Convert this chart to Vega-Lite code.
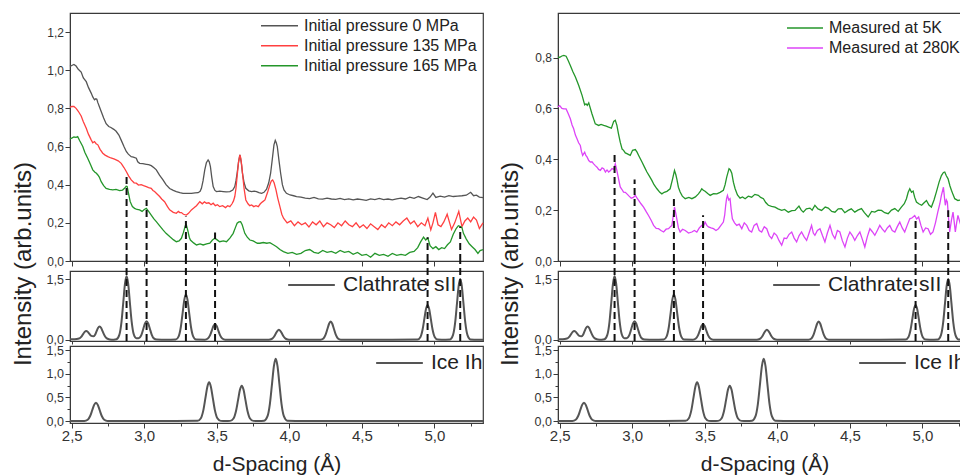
{
"$schema": "https://vega.github.io/schema/vega-lite/v6.json",
"autosize": {"type": "none"},
"padding": {"left": 70, "top": 13, "right": 890, "bottom": 463},
"background": "white",
"config": {
 "font": "Liberation Sans",
 "view": {"stroke": "#3a3a3a", "strokeWidth": 1.2},
 "axis": {"grid": false, "domainColor": "#3a3a3a", "tickColor": "#3a3a3a", "labelColor": "#333333", "labelFont": "Liberation Sans", "titleFont": "Liberation Sans", "titleFontWeight": "normal", "titleColor": "#222222", "labelOverlap": false, "labelFlush": false, "tickWidth": 1},
 "legend": {"labelFont": "Liberation Sans", "labelColor": "#222222", "symbolType": "stroke", "symbolStrokeWidth": 1.6, "padding": 0, "rowPadding": 0, "labelLimit": 400, "title": null}
},
"datasets": {
 "p0": [
 {"d":2.488,"v":1.02},{"d":2.5,"v":1.025},{"d":2.515,"v":1.03},{"d":2.53,"v":1.022},{"d":2.545,"v":1.005},{"d":2.565,"v":0.99},{"d":2.58,"v":0.96},{"d":2.6,"v":0.94},{"d":2.615,"v":0.91},{"d":2.634,"v":0.88},{"d":2.645,"v":0.86},{"d":2.657,"v":0.845},{"d":2.666,"v":0.85},{"d":2.673,"v":0.848},{"d":2.68,"v":0.83},{"d":2.69,"v":0.81},{"d":2.705,"v":0.78},{"d":2.72,"v":0.75},{"d":2.737,"v":0.72},{"d":2.755,"v":0.705},{"d":2.77,"v":0.7},{"d":2.79,"v":0.69},{"d":2.806,"v":0.68},{"d":2.825,"v":0.66},{"d":2.84,"v":0.635},{"d":2.86,"v":0.6},{"d":2.876,"v":0.574},{"d":2.89,"v":0.56},{"d":2.91,"v":0.547},{"d":2.925,"v":0.545},{"d":2.945,"v":0.539},{"d":2.955,"v":0.52},{"d":2.968,"v":0.512},{"d":2.99,"v":0.51},{"d":3.014,"v":0.507},{"d":3.03,"v":0.505},{"d":3.048,"v":0.5},{"d":3.065,"v":0.49},{"d":3.083,"v":0.478},{"d":3.105,"v":0.45},{"d":3.129,"v":0.425},{"d":3.15,"v":0.4},{"d":3.175,"v":0.38},{"d":3.2,"v":0.37},{"d":3.221,"v":0.364},{"d":3.245,"v":0.358},{"d":3.267,"v":0.355},{"d":3.295,"v":0.354},{"d":3.325,"v":0.355},{"d":3.35,"v":0.357},{"d":3.371,"v":0.358},{"d":3.385,"v":0.365},{"d":3.394,"v":0.381},{"d":3.405,"v":0.42},{"d":3.417,"v":0.478},{"d":3.428,"v":0.515},{"d":3.44,"v":0.53},{"d":3.448,"v":0.52},{"d":3.456,"v":0.495},{"d":3.465,"v":0.44},{"d":3.475,"v":0.39},{"d":3.487,"v":0.37},{"d":3.498,"v":0.364},{"d":3.52,"v":0.366},{"d":3.544,"v":0.364},{"d":3.565,"v":0.362},{"d":3.59,"v":0.364},{"d":3.61,"v":0.372},{"d":3.624,"v":0.39},{"d":3.632,"v":0.42},{"d":3.64,"v":0.46},{"d":3.65,"v":0.52},{"d":3.659,"v":0.556},{"d":3.668,"v":0.52},{"d":3.677,"v":0.46},{"d":3.688,"v":0.41},{"d":3.7,"v":0.381},{"d":3.72,"v":0.368},{"d":3.74,"v":0.364},{"d":3.757,"v":0.366},{"d":3.774,"v":0.364},{"d":3.79,"v":0.358},{"d":3.809,"v":0.355},{"d":3.825,"v":0.36},{"d":3.843,"v":0.376},{"d":3.858,"v":0.41},{"d":3.871,"v":0.46},{"d":3.882,"v":0.53},{"d":3.894,"v":0.609},{"d":3.903,"v":0.632},{"d":3.91,"v":0.62},{"d":3.917,"v":0.6},{"d":3.928,"v":0.53},{"d":3.94,"v":0.46},{"d":3.952,"v":0.4},{"d":3.963,"v":0.373},{"d":3.98,"v":0.355},{"d":4.005,"v":0.346},{"d":4.03,"v":0.342},{"d":4.05,"v":0.338},{"d":4.08,"v":0.335},{"d":4.11,"v":0.33},{"d":4.14,"v":0.327},{"d":4.17,"v":0.333},{"d":4.2,"v":0.326},{"d":4.23,"v":0.324},{"d":4.26,"v":0.33},{"d":4.29,"v":0.325},{"d":4.32,"v":0.323},{"d":4.35,"v":0.328},{"d":4.38,"v":0.322},{"d":4.41,"v":0.326},{"d":4.44,"v":0.32},{"d":4.47,"v":0.325},{"d":4.5,"v":0.322},{"d":4.53,"v":0.318},{"d":4.56,"v":0.326},{"d":4.59,"v":0.322},{"d":4.62,"v":0.328},{"d":4.65,"v":0.322},{"d":4.68,"v":0.325},{"d":4.71,"v":0.32},{"d":4.74,"v":0.326},{"d":4.77,"v":0.33},{"d":4.8,"v":0.325},{"d":4.83,"v":0.335},{"d":4.86,"v":0.328},{"d":4.89,"v":0.338},{"d":4.92,"v":0.33},{"d":4.95,"v":0.322},{"d":4.97,"v":0.335},{"d":4.99,"v":0.356},{"d":5.01,"v":0.333},{"d":5.04,"v":0.34},{"d":5.07,"v":0.335},{"d":5.1,"v":0.343},{"d":5.13,"v":0.338},{"d":5.16,"v":0.34},{"d":5.19,"v":0.342},{"d":5.22,"v":0.345},{"d":5.25,"v":0.36},{"d":5.27,"v":0.342},{"d":5.29,"v":0.345},{"d":5.31,"v":0.335},{"d":5.335,"v":0.332}
 ],
 "p135": [
 {"d":2.488,"v":0.805},{"d":2.5,"v":0.81},{"d":2.515,"v":0.81},{"d":2.53,"v":0.8},{"d":2.545,"v":0.785},{"d":2.565,"v":0.76},{"d":2.58,"v":0.73},{"d":2.6,"v":0.696},{"d":2.615,"v":0.665},{"d":2.634,"v":0.635},{"d":2.645,"v":0.62},{"d":2.657,"v":0.626},{"d":2.668,"v":0.615},{"d":2.68,"v":0.609},{"d":2.695,"v":0.585},{"d":2.714,"v":0.565},{"d":2.73,"v":0.555},{"d":2.749,"v":0.547},{"d":2.77,"v":0.54},{"d":2.795,"v":0.534},{"d":2.82,"v":0.525},{"d":2.841,"v":0.512},{"d":2.86,"v":0.49},{"d":2.876,"v":0.469},{"d":2.893,"v":0.445},{"d":2.91,"v":0.425},{"d":2.93,"v":0.41},{"d":2.945,"v":0.408},{"d":2.96,"v":0.398},{"d":2.979,"v":0.4},{"d":2.995,"v":0.395},{"d":3.014,"v":0.39},{"d":3.03,"v":0.385},{"d":3.048,"v":0.381},{"d":3.06,"v":0.37},{"d":3.071,"v":0.364},{"d":3.09,"v":0.35},{"d":3.106,"v":0.338},{"d":3.12,"v":0.325},{"d":3.14,"v":0.311},{"d":3.16,"v":0.285},{"d":3.175,"v":0.268},{"d":3.2,"v":0.255},{"d":3.221,"v":0.25},{"d":3.235,"v":0.26},{"d":3.245,"v":0.254},{"d":3.256,"v":0.254},{"d":3.27,"v":0.245},{"d":3.29,"v":0.241},{"d":3.305,"v":0.25},{"d":3.325,"v":0.268},{"d":3.345,"v":0.28},{"d":3.36,"v":0.29},{"d":3.383,"v":0.311},{"d":3.4,"v":0.3},{"d":3.415,"v":0.31},{"d":3.429,"v":0.303},{"d":3.445,"v":0.305},{"d":3.46,"v":0.295},{"d":3.475,"v":0.303},{"d":3.49,"v":0.29},{"d":3.505,"v":0.295},{"d":3.52,"v":0.285},{"d":3.54,"v":0.29},{"d":3.56,"v":0.28},{"d":3.575,"v":0.29},{"d":3.59,"v":0.285},{"d":3.605,"v":0.3},{"d":3.615,"v":0.315},{"d":3.624,"v":0.338},{"d":3.632,"v":0.38},{"d":3.64,"v":0.443},{"d":3.65,"v":0.52},{"d":3.659,"v":0.556},{"d":3.665,"v":0.54},{"d":3.672,"v":0.5},{"d":3.677,"v":0.46},{"d":3.688,"v":0.38},{"d":3.7,"v":0.32},{"d":3.715,"v":0.3},{"d":3.727,"v":0.29},{"d":3.74,"v":0.294},{"d":3.755,"v":0.285},{"d":3.77,"v":0.29},{"d":3.786,"v":0.285},{"d":3.8,"v":0.3},{"d":3.815,"v":0.31},{"d":3.832,"v":0.32},{"d":3.85,"v":0.36},{"d":3.866,"v":0.4},{"d":3.876,"v":0.42},{"d":3.885,"v":0.425},{"d":3.895,"v":0.41},{"d":3.908,"v":0.373},{"d":3.92,"v":0.33},{"d":3.935,"v":0.285},{"d":3.948,"v":0.245},{"d":3.96,"v":0.224},{"d":3.985,"v":0.2},{"d":4.01,"v":0.21},{"d":4.035,"v":0.185},{"d":4.06,"v":0.205},{"d":4.085,"v":0.19},{"d":4.11,"v":0.2},{"d":4.135,"v":0.178},{"d":4.16,"v":0.205},{"d":4.185,"v":0.19},{"d":4.21,"v":0.21},{"d":4.235,"v":0.18},{"d":4.26,"v":0.2},{"d":4.285,"v":0.19},{"d":4.31,"v":0.175},{"d":4.335,"v":0.2},{"d":4.36,"v":0.185},{"d":4.385,"v":0.21},{"d":4.41,"v":0.19},{"d":4.435,"v":0.18},{"d":4.46,"v":0.2},{"d":4.485,"v":0.175},{"d":4.51,"v":0.19},{"d":4.535,"v":0.17},{"d":4.56,"v":0.195},{"d":4.585,"v":0.18},{"d":4.61,"v":0.165},{"d":4.635,"v":0.19},{"d":4.66,"v":0.175},{"d":4.685,"v":0.2},{"d":4.71,"v":0.185},{"d":4.735,"v":0.205},{"d":4.76,"v":0.19},{"d":4.785,"v":0.21},{"d":4.81,"v":0.225},{"d":4.835,"v":0.195},{"d":4.86,"v":0.21},{"d":4.885,"v":0.18},{"d":4.91,"v":0.2},{"d":4.935,"v":0.185},{"d":4.955,"v":0.225},{"d":4.975,"v":0.163},{"d":4.99,"v":0.2},{"d":5.007,"v":0.255},{"d":5.025,"v":0.19},{"d":5.045,"v":0.18},{"d":5.065,"v":0.205},{"d":5.088,"v":0.245},{"d":5.105,"v":0.2},{"d":5.118,"v":0.165},{"d":5.14,"v":0.2},{"d":5.168,"v":0.26},{"d":5.19,"v":0.18},{"d":5.21,"v":0.21},{"d":5.23,"v":0.225},{"d":5.25,"v":0.205},{"d":5.27,"v":0.23},{"d":5.29,"v":0.215},{"d":5.31,"v":0.17},{"d":5.335,"v":0.2}
 ],
 "p165": [
 {"d":2.488,"v":0.64},{"d":2.5,"v":0.644},{"d":2.515,"v":0.65},{"d":2.53,"v":0.648},{"d":2.541,"v":0.652},{"d":2.555,"v":0.63},{"d":2.576,"v":0.6},{"d":2.59,"v":0.57},{"d":2.61,"v":0.539},{"d":2.63,"v":0.505},{"d":2.645,"v":0.478},{"d":2.66,"v":0.465},{"d":2.67,"v":0.46},{"d":2.68,"v":0.451},{"d":2.69,"v":0.44},{"d":2.703,"v":0.416},{"d":2.72,"v":0.395},{"d":2.737,"v":0.381},{"d":2.76,"v":0.375},{"d":2.783,"v":0.373},{"d":2.805,"v":0.375},{"d":2.83,"v":0.369},{"d":2.85,"v":0.372},{"d":2.864,"v":0.381},{"d":2.875,"v":0.392},{"d":2.882,"v":0.39},{"d":2.89,"v":0.36},{"d":2.903,"v":0.311},{"d":2.918,"v":0.285},{"d":2.933,"v":0.276},{"d":2.95,"v":0.27},{"d":2.968,"v":0.268},{"d":2.985,"v":0.26},{"d":3.0,"v":0.27},{"d":3.014,"v":0.276},{"d":3.03,"v":0.26},{"d":3.048,"v":0.241},{"d":3.065,"v":0.222},{"d":3.083,"v":0.206},{"d":3.105,"v":0.185},{"d":3.129,"v":0.163},{"d":3.15,"v":0.145},{"d":3.175,"v":0.128},{"d":3.2,"v":0.112},{"d":3.221,"v":0.101},{"d":3.24,"v":0.105},{"d":3.256,"v":0.119},{"d":3.27,"v":0.15},{"d":3.283,"v":0.185},{"d":3.29,"v":0.189},{"d":3.3,"v":0.16},{"d":3.31,"v":0.125},{"d":3.318,"v":0.11},{"d":3.34,"v":0.095},{"d":3.36,"v":0.084},{"d":3.385,"v":0.09},{"d":3.406,"v":0.084},{"d":3.43,"v":0.09},{"d":3.452,"v":0.093},{"d":3.47,"v":0.11},{"d":3.486,"v":0.119},{"d":3.5,"v":0.112},{"d":3.52,"v":0.101},{"d":3.545,"v":0.105},{"d":3.567,"v":0.101},{"d":3.59,"v":0.12},{"d":3.613,"v":0.145},{"d":3.628,"v":0.175},{"d":3.64,"v":0.198},{"d":3.652,"v":0.205},{"d":3.664,"v":0.206},{"d":3.675,"v":0.19},{"d":3.693,"v":0.145},{"d":3.71,"v":0.125},{"d":3.728,"v":0.11},{"d":3.75,"v":0.105},{"d":3.78,"v":0.093},{"d":3.797,"v":0.093},{"d":3.82,"v":0.097},{"d":3.845,"v":0.093},{"d":3.866,"v":0.096},{"d":3.89,"v":0.085},{"d":3.912,"v":0.075},{"d":3.935,"v":0.06},{"d":3.959,"v":0.049},{"d":3.99,"v":0.04},{"d":4.02,"v":0.045},{"d":4.05,"v":0.035},{"d":4.08,"v":0.04},{"d":4.11,"v":0.055},{"d":4.14,"v":0.06},{"d":4.17,"v":0.045},{"d":4.2,"v":0.04},{"d":4.23,"v":0.055},{"d":4.26,"v":0.045},{"d":4.29,"v":0.05},{"d":4.32,"v":0.04},{"d":4.35,"v":0.055},{"d":4.38,"v":0.045},{"d":4.41,"v":0.05},{"d":4.44,"v":0.035},{"d":4.47,"v":0.045},{"d":4.5,"v":0.03},{"d":4.53,"v":0.035},{"d":4.56,"v":0.02},{"d":4.59,"v":0.04},{"d":4.62,"v":0.03},{"d":4.65,"v":0.035},{"d":4.68,"v":0.025},{"d":4.71,"v":0.04},{"d":4.74,"v":0.03},{"d":4.77,"v":0.035},{"d":4.8,"v":0.03},{"d":4.83,"v":0.045},{"d":4.86,"v":0.05},{"d":4.885,"v":0.07},{"d":4.905,"v":0.1},{"d":4.925,"v":0.125},{"d":4.94,"v":0.11},{"d":4.955,"v":0.12},{"d":4.97,"v":0.08},{"d":4.99,"v":0.065},{"d":5.01,"v":0.075},{"d":5.03,"v":0.06},{"d":5.05,"v":0.07},{"d":5.07,"v":0.065},{"d":5.09,"v":0.085},{"d":5.11,"v":0.1},{"d":5.13,"v":0.14},{"d":5.15,"v":0.17},{"d":5.165,"v":0.185},{"d":5.18,"v":0.18},{"d":5.19,"v":0.175},{"d":5.2,"v":0.145},{"d":5.22,"v":0.115},{"d":5.24,"v":0.09},{"d":5.26,"v":0.075},{"d":5.28,"v":0.06},{"d":5.3,"v":0.04},{"d":5.315,"v":0.055},{"d":5.335,"v":0.06}
 ],
 "p5k": [
 {"d":2.488,"v":0.8},{"d":2.5,"v":0.801},{"d":2.515,"v":0.806},{"d":2.528,"v":0.808},{"d":2.544,"v":0.805},{"d":2.558,"v":0.788},{"d":2.573,"v":0.769},{"d":2.59,"v":0.745},{"d":2.608,"v":0.723},{"d":2.631,"v":0.69},{"d":2.654,"v":0.651},{"d":2.672,"v":0.614},{"d":2.681,"v":0.618},{"d":2.69,"v":0.612},{"d":2.7,"v":0.622},{"d":2.722,"v":0.579},{"d":2.745,"v":0.539},{"d":2.768,"v":0.533},{"d":2.785,"v":0.537},{"d":2.803,"v":0.533},{"d":2.82,"v":0.53},{"d":2.837,"v":0.526},{"d":2.856,"v":0.522},{"d":2.872,"v":0.549},{"d":2.883,"v":0.553},{"d":2.894,"v":0.533},{"d":2.905,"v":0.5},{"d":2.917,"v":0.467},{"d":2.93,"v":0.44},{"d":2.94,"v":0.435},{"d":2.952,"v":0.425},{"d":2.963,"v":0.422},{"d":2.976,"v":0.418},{"d":2.986,"v":0.415},{"d":3.002,"v":0.435},{"d":3.021,"v":0.438},{"d":3.033,"v":0.428},{"d":3.044,"v":0.415},{"d":3.067,"v":0.389},{"d":3.085,"v":0.368},{"d":3.101,"v":0.35},{"d":3.12,"v":0.332},{"d":3.135,"v":0.317},{"d":3.15,"v":0.3},{"d":3.17,"v":0.284},{"d":3.19,"v":0.27},{"d":3.204,"v":0.264},{"d":3.22,"v":0.27},{"d":3.239,"v":0.274},{"d":3.261,"v":0.284},{"d":3.278,"v":0.323},{"d":3.291,"v":0.356},{"d":3.3,"v":0.34},{"d":3.307,"v":0.323},{"d":3.318,"v":0.29},{"d":3.33,"v":0.271},{"d":3.345,"v":0.255},{"d":3.365,"v":0.245},{"d":3.39,"v":0.25},{"d":3.411,"v":0.245},{"d":3.435,"v":0.252},{"d":3.456,"v":0.264},{"d":3.47,"v":0.275},{"d":3.479,"v":0.284},{"d":3.49,"v":0.278},{"d":3.502,"v":0.274},{"d":3.52,"v":0.265},{"d":3.537,"v":0.258},{"d":3.56,"v":0.265},{"d":3.583,"v":0.264},{"d":3.605,"v":0.27},{"d":3.628,"v":0.278},{"d":3.64,"v":0.3},{"d":3.651,"v":0.33},{"d":3.667,"v":0.363},{"d":3.676,"v":0.358},{"d":3.686,"v":0.345},{"d":3.697,"v":0.31},{"d":3.709,"v":0.284},{"d":3.725,"v":0.26},{"d":3.743,"v":0.247},{"d":3.76,"v":0.252},{"d":3.778,"v":0.245},{"d":3.8,"v":0.255},{"d":3.823,"v":0.251},{"d":3.845,"v":0.262},{"d":3.869,"v":0.258},{"d":3.885,"v":0.25},{"d":3.904,"v":0.245},{"d":3.92,"v":0.23},{"d":3.938,"v":0.219},{"d":3.96,"v":0.215},{"d":3.984,"v":0.212},{"d":4.005,"v":0.205},{"d":4.03,"v":0.199},{"d":4.05,"v":0.203},{"d":4.076,"v":0.192},{"d":4.1,"v":0.198},{"d":4.122,"v":0.199},{"d":4.149,"v":0.216},{"d":4.165,"v":0.2},{"d":4.179,"v":0.192},{"d":4.2,"v":0.205},{"d":4.225,"v":0.208},{"d":4.24,"v":0.2},{"d":4.259,"v":0.219},{"d":4.28,"v":0.205},{"d":4.305,"v":0.199},{"d":4.33,"v":0.212},{"d":4.351,"v":0.208},{"d":4.375,"v":0.195},{"d":4.397,"v":0.192},{"d":4.42,"v":0.205},{"d":4.443,"v":0.206},{"d":4.465,"v":0.19},{"d":4.488,"v":0.199},{"d":4.51,"v":0.205},{"d":4.534,"v":0.192},{"d":4.555,"v":0.2},{"d":4.58,"v":0.206},{"d":4.6,"v":0.19},{"d":4.626,"v":0.173},{"d":4.65,"v":0.195},{"d":4.672,"v":0.192},{"d":4.695,"v":0.2},{"d":4.718,"v":0.199},{"d":4.74,"v":0.19},{"d":4.764,"v":0.186},{"d":4.787,"v":0.2},{"d":4.81,"v":0.206},{"d":4.833,"v":0.195},{"d":4.855,"v":0.212},{"d":4.875,"v":0.225},{"d":4.89,"v":0.245},{"d":4.902,"v":0.27},{"d":4.913,"v":0.284},{"d":4.925,"v":0.27},{"d":4.936,"v":0.275},{"d":4.947,"v":0.25},{"d":4.959,"v":0.232},{"d":4.975,"v":0.225},{"d":4.995,"v":0.219},{"d":5.01,"v":0.228},{"d":5.028,"v":0.238},{"d":5.045,"v":0.22},{"d":5.062,"v":0.212},{"d":5.08,"v":0.24},{"d":5.096,"v":0.271},{"d":5.115,"v":0.31},{"d":5.131,"v":0.336},{"d":5.145,"v":0.348},{"d":5.154,"v":0.35},{"d":5.165,"v":0.335},{"d":5.177,"v":0.323},{"d":5.19,"v":0.295},{"d":5.2,"v":0.278},{"d":5.212,"v":0.26},{"d":5.223,"v":0.245},{"d":5.245,"v":0.238},{"d":5.27,"v":0.24},{"d":5.3,"v":0.25},{"d":5.335,"v":0.245}
 ],
 "p280k": [
 {"d":2.488,"v":0.605},{"d":2.5,"v":0.611},{"d":2.515,"v":0.6},{"d":2.528,"v":0.598},{"d":2.544,"v":0.598},{"d":2.558,"v":0.58},{"d":2.573,"v":0.559},{"d":2.585,"v":0.535},{"d":2.596,"v":0.52},{"d":2.608,"v":0.495},{"d":2.619,"v":0.481},{"d":2.63,"v":0.465},{"d":2.642,"v":0.454},{"d":2.65,"v":0.43},{"d":2.658,"v":0.415},{"d":2.672,"v":0.428},{"d":2.68,"v":0.415},{"d":2.688,"v":0.409},{"d":2.7,"v":0.395},{"d":2.711,"v":0.389},{"d":2.722,"v":0.39},{"d":2.734,"v":0.382},{"d":2.745,"v":0.375},{"d":2.757,"v":0.369},{"d":2.768,"v":0.36},{"d":2.78,"v":0.356},{"d":2.792,"v":0.366},{"d":2.803,"v":0.363},{"d":2.815,"v":0.35},{"d":2.826,"v":0.358},{"d":2.837,"v":0.35},{"d":2.85,"v":0.356},{"d":2.86,"v":0.363},{"d":2.872,"v":0.36},{"d":2.883,"v":0.382},{"d":2.892,"v":0.36},{"d":2.901,"v":0.336},{"d":2.91,"v":0.31},{"d":2.917,"v":0.291},{"d":2.928,"v":0.282},{"d":2.94,"v":0.271},{"d":2.952,"v":0.27},{"d":2.963,"v":0.264},{"d":2.978,"v":0.255},{"d":2.993,"v":0.247},{"d":3.008,"v":0.25},{"d":3.021,"v":0.258},{"d":3.032,"v":0.248},{"d":3.044,"v":0.238},{"d":3.06,"v":0.225},{"d":3.078,"v":0.212},{"d":3.095,"v":0.195},{"d":3.112,"v":0.179},{"d":3.13,"v":0.16},{"d":3.147,"v":0.14},{"d":3.165,"v":0.128},{"d":3.181,"v":0.127},{"d":3.198,"v":0.12},{"d":3.216,"v":0.114},{"d":3.233,"v":0.125},{"d":3.25,"v":0.127},{"d":3.263,"v":0.135},{"d":3.273,"v":0.14},{"d":3.282,"v":0.175},{"d":3.291,"v":0.212},{"d":3.299,"v":0.19},{"d":3.307,"v":0.166},{"d":3.318,"v":0.13},{"d":3.33,"v":0.114},{"d":3.347,"v":0.125},{"d":3.365,"v":0.12},{"d":3.388,"v":0.11},{"d":3.411,"v":0.114},{"d":3.428,"v":0.12},{"d":3.445,"v":0.114},{"d":3.462,"v":0.13},{"d":3.479,"v":0.14},{"d":3.49,"v":0.135},{"d":3.502,"v":0.153},{"d":3.514,"v":0.14},{"d":3.525,"v":0.134},{"d":3.543,"v":0.13},{"d":3.56,"v":0.127},{"d":3.577,"v":0.12},{"d":3.594,"v":0.127},{"d":3.611,"v":0.14},{"d":3.628,"v":0.153},{"d":3.637,"v":0.18},{"d":3.644,"v":0.219},{"d":3.65,"v":0.245},{"d":3.656,"v":0.258},{"d":3.665,"v":0.24},{"d":3.674,"v":0.245},{"d":3.682,"v":0.2},{"d":3.69,"v":0.166},{"d":3.705,"v":0.15},{"d":3.72,"v":0.14},{"d":3.737,"v":0.145},{"d":3.755,"v":0.127},{"d":3.772,"v":0.15},{"d":3.789,"v":0.14},{"d":3.806,"v":0.12},{"d":3.823,"v":0.114},{"d":3.84,"v":0.14},{"d":3.858,"v":0.147},{"d":3.875,"v":0.12},{"d":3.892,"v":0.114},{"d":3.91,"v":0.135},{"d":3.927,"v":0.127},{"d":3.944,"v":0.1},{"d":3.961,"v":0.088},{"d":3.978,"v":0.11},{"d":3.995,"v":0.101},{"d":4.012,"v":0.08},{"d":4.03,"v":0.062},{"d":4.047,"v":0.09},{"d":4.064,"v":0.088},{"d":4.081,"v":0.105},{"d":4.099,"v":0.114},{"d":4.116,"v":0.09},{"d":4.133,"v":0.075},{"d":4.15,"v":0.1},{"d":4.167,"v":0.114},{"d":4.185,"v":0.095},{"d":4.202,"v":0.081},{"d":4.219,"v":0.11},{"d":4.236,"v":0.14},{"d":4.248,"v":0.11},{"d":4.259,"v":0.101},{"d":4.276,"v":0.12},{"d":4.294,"v":0.127},{"d":4.311,"v":0.1},{"d":4.328,"v":0.075},{"d":4.345,"v":0.11},{"d":4.363,"v":0.14},{"d":4.38,"v":0.105},{"d":4.397,"v":0.088},{"d":4.414,"v":0.12},{"d":4.431,"v":0.114},{"d":4.448,"v":0.08},{"d":4.466,"v":0.055},{"d":4.483,"v":0.09},{"d":4.5,"v":0.114},{"d":4.517,"v":0.1},{"d":4.534,"v":0.081},{"d":4.552,"v":0.1},{"d":4.569,"v":0.114},{"d":4.586,"v":0.085},{"d":4.603,"v":0.055},{"d":4.62,"v":0.095},{"d":4.638,"v":0.127},{"d":4.655,"v":0.115},{"d":4.672,"v":0.101},{"d":4.689,"v":0.12},{"d":4.706,"v":0.14},{"d":4.724,"v":0.125},{"d":4.741,"v":0.114},{"d":4.758,"v":0.13},{"d":4.775,"v":0.14},{"d":4.792,"v":0.12},{"d":4.81,"v":0.114},{"d":4.827,"v":0.135},{"d":4.844,"v":0.153},{"d":4.861,"v":0.13},{"d":4.878,"v":0.114},{"d":4.895,"v":0.14},{"d":4.913,"v":0.166},{"d":4.93,"v":0.17},{"d":4.947,"v":0.179},{"d":4.96,"v":0.165},{"d":4.974,"v":0.173},{"d":4.99,"v":0.14},{"d":5.005,"v":0.114},{"d":5.022,"v":0.13},{"d":5.039,"v":0.127},{"d":5.056,"v":0.105},{"d":5.073,"v":0.114},{"d":5.09,"v":0.15},{"d":5.106,"v":0.192},{"d":5.12,"v":0.225},{"d":5.131,"v":0.258},{"d":5.145,"v":0.29},{"d":5.152,"v":0.25},{"d":5.158,"v":0.219},{"d":5.165,"v":0.24},{"d":5.172,"v":0.232},{"d":5.18,"v":0.17},{"d":5.188,"v":0.114},{"d":5.2,"v":0.16},{"d":5.211,"v":0.192},{"d":5.22,"v":0.15},{"d":5.227,"v":0.114},{"d":5.236,"v":0.15},{"d":5.245,"v":0.179},{"d":5.265,"v":0.14},{"d":5.29,"v":0.19},{"d":5.31,"v":0.13},{"d":5.335,"v":0.17}
 ],
 "clath": [
 {"d":2.488,"v":0.015},{"d":2.52,"v":0.015},{"d":2.55,"v":0.03},{"d":2.565,"v":0.07},{"d":2.578,"v":0.14},{"d":2.589,"v":0.195},{"d":2.6,"v":0.22},{"d":2.611,"v":0.195},{"d":2.622,"v":0.145},{"d":2.635,"v":0.095},{"d":2.648,"v":0.085},{"d":2.66,"v":0.12},{"d":2.67,"v":0.2},{"d":2.681,"v":0.29},{"d":2.692,"v":0.33},{"d":2.703,"v":0.29},{"d":2.714,"v":0.2},{"d":2.727,"v":0.1},{"d":2.742,"v":0.035},{"d":2.762,"v":0.008},{"d":2.79,"v":0.003},{"d":2.808,"v":0.012},{"d":2.828,"v":0.12},{"d":2.843,"v":0.443},{"d":2.856,"v":0.953},{"d":2.867,"v":1.385},{"d":2.878,"v":1.57},{"d":2.889,"v":1.385},{"d":2.9,"v":0.953},{"d":2.913,"v":0.45},{"d":2.928,"v":0.13},{"d":2.945,"v":0.04},{"d":2.96,"v":0.04},{"d":2.97,"v":0.06},{"d":2.981,"v":0.13},{"d":2.994,"v":0.28},{"d":3.005,"v":0.405},{"d":3.016,"v":0.46},{"d":3.027,"v":0.405},{"d":3.038,"v":0.28},{"d":3.051,"v":0.13},{"d":3.066,"v":0.035},{"d":3.086,"v":0.005},{"d":3.15,"v":0.0},{"d":3.217,"v":0.007},{"d":3.237,"v":0.085},{"d":3.252,"v":0.316},{"d":3.265,"v":0.68},{"d":3.276,"v":0.988},{"d":3.287,"v":1.12},{"d":3.298,"v":0.988},{"d":3.309,"v":0.68},{"d":3.322,"v":0.316},{"d":3.337,"v":0.085},{"d":3.357,"v":0.007},{"d":3.418,"v":0.003},{"d":3.438,"v":0.03},{"d":3.453,"v":0.109},{"d":3.466,"v":0.234},{"d":3.477,"v":0.34},{"d":3.488,"v":0.385},{"d":3.499,"v":0.34},{"d":3.51,"v":0.234},{"d":3.523,"v":0.109},{"d":3.538,"v":0.03},{"d":3.558,"v":0.003},{"d":3.7,"v":0.0},{"d":3.858,"v":0.002},{"d":3.878,"v":0.019},{"d":3.893,"v":0.069},{"d":3.906,"v":0.149},{"d":3.917,"v":0.216},{"d":3.928,"v":0.245},{"d":3.939,"v":0.216},{"d":3.95,"v":0.149},{"d":3.963,"v":0.069},{"d":3.978,"v":0.019},{"d":3.998,"v":0.002},{"d":4.215,"v":0.003},{"d":4.235,"v":0.034},{"d":4.25,"v":0.127},{"d":4.263,"v":0.273},{"d":4.274,"v":0.397},{"d":4.285,"v":0.45},{"d":4.296,"v":0.397},{"d":4.307,"v":0.273},{"d":4.32,"v":0.127},{"d":4.335,"v":0.034},{"d":4.355,"v":0.003},{"d":4.6,"v":0.0},{"d":4.883,"v":0.005},{"d":4.903,"v":0.065},{"d":4.918,"v":0.243},{"d":4.931,"v":0.522},{"d":4.942,"v":0.759},{"d":4.953,"v":0.86},{"d":4.964,"v":0.759},{"d":4.975,"v":0.522},{"d":4.988,"v":0.243},{"d":5.003,"v":0.065},{"d":5.023,"v":0.005},{"d":5.05,"v":0.001},{"d":5.108,"v":0.009},{"d":5.128,"v":0.114},{"d":5.143,"v":0.423},{"d":5.156,"v":0.911},{"d":5.167,"v":1.323},{"d":5.178,"v":1.5},{"d":5.189,"v":1.323},{"d":5.2,"v":0.911},{"d":5.213,"v":0.423},{"d":5.228,"v":0.114},{"d":5.248,"v":0.009},{"d":5.3,"v":0.0},{"d":5.335,"v":0.0}
 ],
 "ice": [
 {"d":2.488,"v":0.0},{"d":2.587,"v":0.002},{"d":2.61,"v":0.029},{"d":2.627,"v":0.108},{"d":2.642,"v":0.237},{"d":2.6545,"v":0.344},{"d":2.667,"v":0.39},{"d":2.6795,"v":0.344},{"d":2.692,"v":0.237},{"d":2.707,"v":0.108},{"d":2.724,"v":0.029},{"d":2.747,"v":0.002},{"d":3.0,"v":0.0},{"d":3.367,"v":0.005},{"d":3.39,"v":0.061},{"d":3.407,"v":0.228},{"d":3.422,"v":0.498},{"d":3.4345,"v":0.723},{"d":3.447,"v":0.82},{"d":3.4595,"v":0.723},{"d":3.472,"v":0.498},{"d":3.487,"v":0.228},{"d":3.504,"v":0.061},{"d":3.527,"v":0.005},{"d":3.56,"v":0.001},{"d":3.592,"v":0.005},{"d":3.615,"v":0.056},{"d":3.632,"v":0.209},{"d":3.647,"v":0.455},{"d":3.6595,"v":0.662},{"d":3.672,"v":0.75},{"d":3.6845,"v":0.662},{"d":3.697,"v":0.455},{"d":3.712,"v":0.209},{"d":3.729,"v":0.056},{"d":3.752,"v":0.005},{"d":3.79,"v":0.0},{"d":3.826,"v":0.008},{"d":3.849,"v":0.098},{"d":3.866,"v":0.367},{"d":3.881,"v":0.801},{"d":3.8935,"v":1.164},{"d":3.906,"v":1.32},{"d":3.9185,"v":1.164},{"d":3.931,"v":0.801},{"d":3.946,"v":0.367},{"d":3.963,"v":0.098},{"d":3.986,"v":0.008},{"d":4.1,"v":0.0},{"d":5.335,"v":0.0}
 ],
 "dl_left": [{"d":2.878,"h":0.443,"lo":0,"lo2":-0.03,"hi2":1.947},{"d":3.016,"h":0.32,"lo":0,"lo2":-0.03,"hi2":1.947},{"d":3.287,"h":0.233,"lo":0,"lo2":-0.03,"hi2":1.947},{"d":3.488,"h":0.15,"lo":0,"lo2":-0.03,"hi2":1.947},{"d":4.953,"h":0.125,"lo":0,"lo2":-0.03,"hi2":1.947},{"d":5.178,"h":0.18,"lo":0,"lo2":-0.03,"hi2":1.947}],
 "dl_right": [{"d":2.878,"h":0.428,"lo":0,"lo2":-0.03,"hi2":1.947},{"d":3.016,"h":0.32,"lo":0,"lo2":-0.03,"hi2":1.947},{"d":3.287,"h":0.245,"lo":0,"lo2":-0.03,"hi2":1.947},{"d":3.488,"h":0.18,"lo":0,"lo2":-0.03,"hi2":1.947},{"d":4.953,"h":0.173,"lo":0,"lo2":-0.03,"hi2":1.947},{"d":5.178,"h":0.2,"lo":0,"lo2":-0.03,"hi2":1.947}]
},
"hconcat": [
 {
  "vconcat": [
   {
    "width": 413, "height": 248,
    "layer": [
     {"data": {"name": "p0"}, "mark": {"type": "line", "strokeWidth": 1.3},
      "encoding": {
       "x": {"field": "d", "type": "quantitative", "scale": {"domain": [2.488, 5.335], "nice": false, "zero": false},
             "axis": {"title": null, "labels": false, "values": [2.5,2.75,3,3.25,3.5,3.75,4,4.25,4.5,4.75,5,5.25], "tickSize": {"condition": {"test": "round(datum.value*4)%2==0", "value": 5}, "value": 3}}},
       "y": {"field": "v", "type": "quantitative", "scale": {"domain": [0, 1.3], "nice": false, "zero": false},
             "axis": {"title": "Intensity (arb.units)", "titleFontSize": 24, "titleX": -40, "titleY": 250.5, "titleBaseline": "alphabetic", "titleAngle": 270, "titleAlign": "center",
                      "values": [0,0.1,0.2,0.3,0.4,0.5,0.6,0.7,0.8,0.9,1,1.1,1.2], "labelFontSize": 12, "labelPadding": 1.5,
                      "labelExpr": "round(datum.value*10)%2==0 ? replace(format(datum.value,'.1f'),'.',',') : ''",
                      "tickSize": {"condition": {"test": "round(datum.value*10)%2==0", "value": 5}, "value": 3}}},
       "color": {"datum": "Initial pressure 0 MPa", "type": "nominal",
                 "scale": {"domain": ["Initial pressure 0 MPa", "Initial pressure 135 MPa", "Initial pressure 165 MPa"], "range": ["#555555", "#ff4040", "#24962a"]},
                 "legend": {"orient": "none", "legendX": 190, "legendY": 3, "symbolSize": 1369, "clipHeight": 19.5, "labelOffset": 5, "labelFontSize": 16}}
      }},
     {"data": {"name": "p135"}, "mark": {"type": "line", "strokeWidth": 1.3},
      "encoding": {"x": {"field": "d", "type": "quantitative"}, "y": {"field": "v", "type": "quantitative"}, "color": {"datum": "Initial pressure 135 MPa", "type": "nominal"}}},
     {"data": {"name": "p165"}, "mark": {"type": "line", "strokeWidth": 1.3},
      "encoding": {"x": {"field": "d", "type": "quantitative"}, "y": {"field": "v", "type": "quantitative"}, "color": {"datum": "Initial pressure 165 MPa", "type": "nominal"}}},
     {"data": {"name": "dl_left"}, "mark": {"type": "rule", "strokeDash": [7, 4], "strokeWidth": 2, "color": "#111111"},
      "encoding": {"x": {"field": "d", "type": "quantitative"}, "y": {"field": "lo", "type": "quantitative"}, "y2": {"field": "h"}}}
    ]
   },
   {
    "vconcat": [
     {
      "width": 413, "height": 70,
      "layer": [
       {"data": {"name": "clath"}, "mark": {"type": "line", "interpolate": "monotone", "strokeWidth": 2},
        "encoding": {
         "x": {"field": "d", "type": "quantitative", "scale": {"domain": [2.488, 5.335], "nice": false, "zero": false},
               "axis": {"title": null, "labels": false, "values": [2.5,2.75,3,3.25,3.5,3.75,4,4.25,4.5,4.75,5,5.25], "tickSize": 3}},
         "y": {"field": "v", "type": "quantitative", "scale": {"domain": [-0.03, 1.7], "nice": false, "zero": false},
               "axis": {"title": null, "values": [0,0.25,0.5,0.75,1,1.25,1.5], "labelFontSize": 12.5, "labelPadding": 1.5,
                        "labelExpr": "round(datum.value*4)%2==0 ? replace(format(datum.value,'.1f'),'.',',') : ''",
                        "tickSize": {"condition": {"test": "round(datum.value*4)%2==0", "value": 5}, "value": 3}}},
         "color": {"datum": "Clathrate sII", "type": "nominal", "scale": {"domain": ["Clathrate sII"], "range": ["#555555"]},
                   "legend": {"orient": "none", "legendX": 217, "legendY": 2, "symbolSize": 2180, "symbolStrokeWidth": 2, "clipHeight": 24, "labelOffset": 7, "labelFontSize": 21}}
        }},
       {"data": {"name": "dl_left"}, "mark": {"type": "rule", "strokeDash": [7, 4], "strokeWidth": 2, "color": "#111111"},
        "encoding": {"x": {"field": "d", "type": "quantitative"}, "y": {"field": "lo2", "type": "quantitative"}, "y2": {"field": "hi2"}}}
      ]
     },
     {
      "width": 413, "height": 77,
      "data": {"name": "ice"},
      "mark": {"type": "line", "interpolate": "monotone", "strokeWidth": 2},
      "encoding": {
       "x": {"field": "d", "type": "quantitative", "scale": {"domain": [2.488, 5.335], "nice": false, "zero": false},
             "axis": {"title": "d-Spacing (Å)", "titleFontSize": 21, "titleY": 47, "titleBaseline": "alphabetic",
                      "values": [2.5,2.75,3,3.25,3.5,3.75,4,4.25,4.5,4.75,5,5.25], "labelFontSize": 15, "labelPadding": 0,
                      "labelExpr": "round(datum.value*4)%2==0 ? replace(format(datum.value,'.1f'),'.',',') : ''",
                      "tickSize": {"condition": {"test": "round(datum.value*4)%2==0", "value": 5}, "value": 3}}},
       "y": {"field": "v", "type": "quantitative", "scale": {"domain": [-0.04, 1.59], "nice": false, "zero": false},
             "axis": {"title": null, "values": [0,0.25,0.5,0.75,1,1.25,1.5], "labelFontSize": 12.5, "labelPadding": 1.5,
                      "labelExpr": "round(datum.value*4)%2==0 ? replace(format(datum.value,'.1f'),'.',',') : ''",
                      "tickSize": {"condition": {"test": "round(datum.value*4)%2==0", "value": 5}, "value": 3}}},
       "color": {"datum": "Ice Ih", "type": "nominal", "scale": {"domain": ["Ice Ih"], "range": ["#555555"]},
                 "legend": {"orient": "none", "legendX": 305, "legendY": 5, "symbolSize": 2180, "symbolStrokeWidth": 2, "clipHeight": 24, "labelOffset": 7, "labelFontSize": 21}}
      }
     }
    ],
    "spacing": 5, "bounds": "flush",
    "resolve": {"scale": {"color": "independent"}, "legend": {"color": "independent"}}
   }
  ],
  "spacing": 10, "bounds": "flush",
  "resolve": {"scale": {"color": "independent"}, "legend": {"color": "independent"}}
 },
 {
  "vconcat": [
   {
    "width": 413, "height": 248,
    "layer": [
     {"data": {"name": "p5k"}, "mark": {"type": "line", "strokeWidth": 1.3},
      "encoding": {
       "x": {"field": "d", "type": "quantitative", "scale": {"domain": [2.488, 5.335], "nice": false, "zero": false},
             "axis": {"title": null, "labels": false, "values": [2.5,2.75,3,3.25,3.5,3.75,4,4.25,4.5,4.75,5,5.25], "tickSize": {"condition": {"test": "round(datum.value*4)%2==0", "value": 5}, "value": 3}}},
       "y": {"field": "v", "type": "quantitative", "scale": {"domain": [0, 0.975], "nice": false, "zero": false},
             "axis": {"title": "Intensity (arb.units)", "titleFontSize": 24, "titleX": -41, "titleY": 250.5, "titleBaseline": "alphabetic", "titleAngle": 270, "titleAlign": "center",
                      "values": [0,0.1,0.2,0.3,0.4,0.5,0.6,0.7,0.8,0.9], "labelFontSize": 12, "labelPadding": 1.5,
                      "labelExpr": "round(datum.value*10)%2==0 ? replace(format(datum.value,'.1f'),'.',',') : ''",
                      "tickSize": {"condition": {"test": "round(datum.value*10)%2==0", "value": 5}, "value": 3}}},
       "color": {"datum": "Measured at 5K", "type": "nominal",
                 "scale": {"domain": ["Measured at 5K", "Measured at 280K"], "range": ["#24962a", "#dd44f7"]},
                 "legend": {"orient": "none", "legendX": 228, "legendY": 5, "symbolSize": 1296, "clipHeight": 20, "labelOffset": 5, "labelFontSize": 16}}
      }},
     {"data": {"name": "p280k"}, "mark": {"type": "line", "strokeWidth": 1.3},
      "encoding": {"x": {"field": "d", "type": "quantitative"}, "y": {"field": "v", "type": "quantitative"}, "color": {"datum": "Measured at 280K", "type": "nominal"}}},
     {"data": {"name": "dl_right"}, "mark": {"type": "rule", "strokeDash": [7, 4], "strokeWidth": 2, "color": "#111111"},
      "encoding": {"x": {"field": "d", "type": "quantitative"}, "y": {"field": "lo", "type": "quantitative"}, "y2": {"field": "h"}}}
    ]
   },
   {
    "vconcat": [
     {
      "width": 413, "height": 70,
      "layer": [
       {"data": {"name": "clath"}, "mark": {"type": "line", "interpolate": "monotone", "strokeWidth": 2},
        "encoding": {
         "x": {"field": "d", "type": "quantitative", "scale": {"domain": [2.488, 5.335], "nice": false, "zero": false},
               "axis": {"title": null, "labels": false, "values": [2.5,2.75,3,3.25,3.5,3.75,4,4.25,4.5,4.75,5,5.25], "tickSize": 3}},
         "y": {"field": "v", "type": "quantitative", "scale": {"domain": [-0.03, 1.7], "nice": false, "zero": false},
               "axis": {"title": null, "values": [0,0.25,0.5,0.75,1,1.25,1.5], "labelFontSize": 12.5, "labelPadding": 1.5,
                        "labelExpr": "round(datum.value*4)%2==0 ? replace(format(datum.value,'.1f'),'.',',') : ''",
                        "tickSize": {"condition": {"test": "round(datum.value*4)%2==0", "value": 5}, "value": 3}}},
         "color": {"datum": "Clathrate sII", "type": "nominal", "scale": {"domain": ["Clathrate sII"], "range": ["#555555"]},
                   "legend": {"orient": "none", "legendX": 214, "legendY": 2, "symbolSize": 2180, "symbolStrokeWidth": 2, "clipHeight": 24, "labelOffset": 7, "labelFontSize": 21}}
        }},
       {"data": {"name": "dl_right"}, "mark": {"type": "rule", "strokeDash": [7, 4], "strokeWidth": 2, "color": "#111111"},
        "encoding": {"x": {"field": "d", "type": "quantitative"}, "y": {"field": "lo2", "type": "quantitative"}, "y2": {"field": "hi2"}}}
      ]
     },
     {
      "width": 413, "height": 77,
      "data": {"name": "ice"},
      "mark": {"type": "line", "interpolate": "monotone", "strokeWidth": 2},
      "encoding": {
       "x": {"field": "d", "type": "quantitative", "scale": {"domain": [2.488, 5.335], "nice": false, "zero": false},
             "axis": {"title": "d-Spacing (Å)", "titleFontSize": 21, "titleY": 47, "titleBaseline": "alphabetic",
                      "values": [2.5,2.75,3,3.25,3.5,3.75,4,4.25,4.5,4.75,5,5.25], "labelFontSize": 15, "labelPadding": 0,
                      "labelExpr": "round(datum.value*4)%2==0 ? replace(format(datum.value,'.1f'),'.',',') : ''",
                      "tickSize": {"condition": {"test": "round(datum.value*4)%2==0", "value": 5}, "value": 3}}},
       "y": {"field": "v", "type": "quantitative", "scale": {"domain": [-0.04, 1.59], "nice": false, "zero": false},
             "axis": {"title": null, "values": [0,0.25,0.5,0.75,1,1.25,1.5], "labelFontSize": 12.5, "labelPadding": 1.5,
                      "labelExpr": "round(datum.value*4)%2==0 ? replace(format(datum.value,'.1f'),'.',',') : ''",
                      "tickSize": {"condition": {"test": "round(datum.value*4)%2==0", "value": 5}, "value": 3}}},
       "color": {"datum": "Ice Ih", "type": "nominal", "scale": {"domain": ["Ice Ih"], "range": ["#555555"]},
                 "legend": {"orient": "none", "legendX": 300, "legendY": 5, "symbolSize": 2180, "symbolStrokeWidth": 2, "clipHeight": 24, "labelOffset": 7, "labelFontSize": 21}}
      }
     }
    ],
    "spacing": 5, "bounds": "flush",
    "resolve": {"scale": {"color": "independent"}, "legend": {"color": "independent"}}
   }
  ],
  "spacing": 10, "bounds": "flush",
  "resolve": {"scale": {"color": "independent"}, "legend": {"color": "independent"}}
 }
],
"spacing": 9,
"bounds": "full",
"resolve": {"scale": {"color": "independent"}, "legend": {"color": "independent"}}
}
